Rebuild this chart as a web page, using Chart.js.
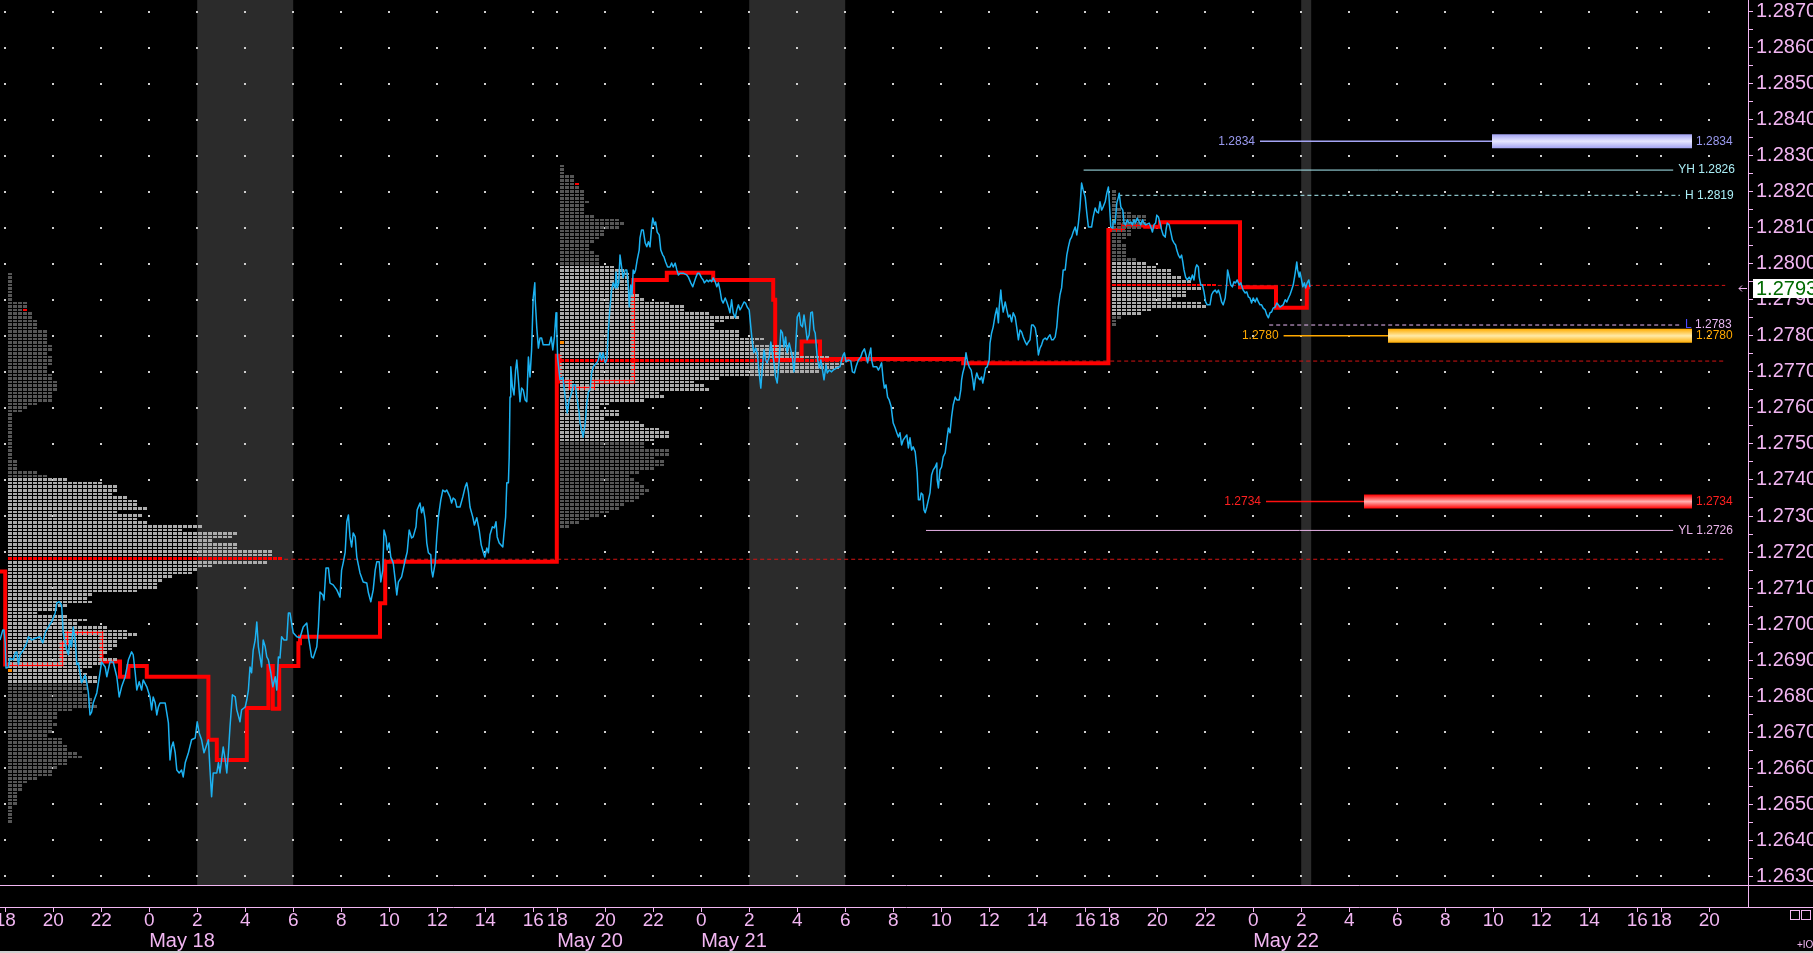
<!DOCTYPE html>
<html><head><meta charset="utf-8">
<script src="https://cdn.jsdelivr.net/npm/chart.js@4.4.1/dist/chart.umd.min.js"></script>
<style>html,body{margin:0;padding:0;background:#000;overflow:hidden}canvas{display:block}</style>
</head><body>
<canvas id="c" width="1813" height="953"></canvas>
<script>
// Time axis: minutes of trading time since the May 17 18:00 open (each session 18:00-17:00 = 1380 min)
const tickMinutes = [0,120,240,360,480,600,720,840,960,1080,1200,1320,
  1380,1500,1620,1740,1860,1980,2100,2220,2340,2460,2580,2700,
  2760,2880,3000,3120,3240,3360,3480,3600,3720,3840,3960,4080,
  4140,4260];
const tickLabels = ['18','20','22','0','2','4','6','8','10','12','14','16',
  '18','20','22','0','2','4','6','8','10','12','14','16',
  '18','20','22','0','2','4','6','8','10','12','14','16',
  '18','20'];
const dateTicks = [360,1380,1740,3120];
const dateLabels = ['May 18','May 20','May 21','May 22'];
const yMajorTicks = [1.2630,1.2640,1.2650,1.2660,1.2670,1.2680,1.2690,1.2700,1.2710,1.2720,1.2730,1.2740,1.2750,1.2760,1.2770,1.2780,1.2790,1.2800,1.2810,1.2820,1.2830,1.2840,1.2850,1.2860,1.2870];
const yMinorTicks = [1.2635,1.2645,1.2655,1.2665,1.2675,1.2685,1.2695,1.2705,1.2715,1.2725,1.2735,1.2745,1.2755,1.2765,1.2775,1.2785,1.2795,1.2805,1.2815,1.2825,1.2835,1.2845,1.2855,1.2865];

// European-morning shaded periods (trading minutes)
const bandFrom = [480,1860,3240];
const bandTo = [720,2100,3265];

// Price (minute, price)
const priceSeries = [[-13,1.26956],[-6,1.26984],[-3,1.26984],[0,1.26948],[2,1.26878],[8,1.26881],[12,1.26906],[20,1.26901],[25,1.26920],[29,1.26923],[33,1.26887],[37,1.26915],[45,1.26928],[54,1.26948],[58,1.26965],[66,1.26956],[79,1.26962],[87,1.26965],[94,1.26948],[100,1.26976],[108,1.26992],[116,1.27006],[125,1.27031],[129,1.27059],[135,1.27062],[141,1.27053],[145,1.26976],[150,1.26948],[154,1.26928],[158,1.26915],[162,1.26956],[166,1.26937],[170,1.26992],[175,1.26956],[179,1.26887],[183,1.26892],[187,1.26865],[191,1.26837],[200,1.26859],[204,1.26837],[208,1.26809],[212,1.26748],[216,1.26756],[220,1.26781],[229,1.26809],[237,1.26865],[241,1.26895],[250,1.26881],[254,1.26854],[262,1.26895],[270,1.26895],[279,1.26854],[285,1.26798],[291,1.26826],[300,1.26854],[308,1.26901],[316,1.26923],[320,1.26915],[325,1.26865],[329,1.26817],[335,1.26840],[341,1.26817],[345,1.26845],[354,1.26826],[362,1.26798],[366,1.26762],[370,1.26798],[375,1.26781],[379,1.26748],[383,1.26770],[387,1.26781],[400,1.26781],[404,1.26754],[408,1.26726],[412,1.26623],[416,1.26659],[420,1.26673],[425,1.26643],[429,1.26595],[435,1.26587],[441,1.26595],[445,1.26576],[450,1.26615],[458,1.26643],[466,1.26679],[475,1.26684],[480,1.26729],[485,1.26698],[491,1.26679],[497,1.26643],[502,1.26659],[508,1.26679],[512,1.26595],[516,1.26521],[520,1.26587],[529,1.26587],[533,1.26615],[537,1.26587],[545,1.26659],[550,1.26623],[554,1.26587],[558,1.26643],[562,1.26715],[568,1.26804],[575,1.26798],[579,1.26762],[587,1.26729],[591,1.26762],[600,1.26770],[604,1.26790],[608,1.26817],[612,1.26881],[616,1.26865],[620,1.26928],[625,1.26956],[629,1.27006],[633,1.26937],[637,1.26909],[641,1.26881],[645,1.26956],[650,1.26937],[654,1.26909],[658,1.26901],[664,1.26865],[669,1.26826],[675,1.26854],[679,1.26817],[683,1.26909],[687,1.26906],[691,1.26965],[697,1.26956],[704,1.26956],[708,1.27031],[712,1.27031],[716,1.27003],[720,1.26976],[729,1.26965],[737,1.26962],[745,1.26992],[754,1.27003],[758,1.26965],[766,1.26909],[770,1.26906],[779,1.26937],[783,1.26992],[787,1.27089],[794,1.27081],[797,1.27067],[802,1.27156],[808,1.27156],[812,1.27114],[820,1.27109],[829,1.27095],[837,1.27075],[841,1.27150],[845,1.27170],[850,1.27200],[854,1.27284],[858,1.27303],[862,1.27242],[866,1.27214],[870,1.27253],[875,1.27242],[879,1.27186],[887,1.27142],[895,1.27117],[904,1.27114],[908,1.27087],[914,1.27062],[920,1.27095],[925,1.27150],[929,1.27173],[935,1.27173],[939,1.27117],[944,1.27150],[947,1.27261],[952,1.27242],[955,1.27206],[960,1.27225],[964,1.27186],[970,1.27170],[975,1.27123],[979,1.27081],[983,1.27117],[991,1.27131],[1000,1.27178],[1005,1.27200],[1010,1.27261],[1016,1.27239],[1020,1.27242],[1027,1.27270],[1030,1.27317],[1037,1.27336],[1041,1.27309],[1045,1.27325],[1050,1.27289],[1054,1.27225],[1058,1.27198],[1064,1.27192],[1066,1.27150],[1069,1.27131],[1075,1.27170],[1079,1.27242],[1083,1.27297],[1089,1.27345],[1094,1.27372],[1100,1.27367],[1104,1.27372],[1112,1.27353],[1116,1.27336],[1120,1.27350],[1125,1.27345],[1129,1.27325],[1137,1.27325],[1144,1.27353],[1150,1.27381],[1154,1.27392],[1158,1.27367],[1162,1.27325],[1169,1.27297],[1173,1.27275],[1179,1.27295],[1185,1.27261],[1190,1.27220],[1195,1.27200],[1199,1.27186],[1204,1.27211],[1208,1.27198],[1212,1.27248],[1218,1.27270],[1223,1.27267],[1227,1.27284],[1230,1.27242],[1235,1.27225],[1244,1.27214],[1247,1.27253],[1251,1.27297],[1254,1.27392],[1258,1.27392],[1260,1.27464],[1262,1.27630],[1264,1.27714],[1268,1.27658],[1272,1.27636],[1276,1.27705],[1279,1.27733],[1283,1.27678],[1287,1.27617],[1291,1.27655],[1295,1.27650],[1300,1.27622],[1304,1.27617],[1308,1.27741],[1312,1.27686],[1316,1.27761],[1320,1.27905],[1324,1.27947],[1325,1.27900],[1329,1.27822],[1333,1.27766],[1337,1.27794],[1341,1.27794],[1345,1.27775],[1354,1.27775],[1360,1.27775],[1365,1.27797],[1369,1.27761],[1373,1.27797],[1377,1.27864],[1379,1.27816],[1381,1.27741],[1387,1.27678],[1394,1.27686],[1400,1.27630],[1405,1.27586],[1410,1.27622],[1416,1.27642],[1420,1.27664],[1425,1.27664],[1429,1.27630],[1435,1.27586],[1437,1.27558],[1441,1.27539],[1445,1.27519],[1450,1.27558],[1454,1.27614],[1458,1.27644],[1462,1.27650],[1466,1.27697],[1470,1.27714],[1479,1.27725],[1483,1.27733],[1487,1.27753],[1491,1.27733],[1495,1.27753],[1500,1.27725],[1504,1.27733],[1508,1.27816],[1512,1.27880],[1516,1.27927],[1520,1.27947],[1525,1.27933],[1527,1.27977],[1530,1.27933],[1534,1.27947],[1537,1.28024],[1541,1.27991],[1545,1.27961],[1550,1.27983],[1554,1.27983],[1558,1.27936],[1560,1.27880],[1564,1.27941],[1567,1.27914],[1570,1.27983],[1573,1.27974],[1576,1.27983],[1580,1.28011],[1585,1.28038],[1587,1.28072],[1591,1.28094],[1595,1.28094],[1600,1.28058],[1604,1.28047],[1608,1.28061],[1612,1.28047],[1616,1.28102],[1619,1.28127],[1623,1.28108],[1626,1.28116],[1630,1.28088],[1635,1.28080],[1639,1.28038],[1644,1.28024],[1647,1.28019],[1651,1.28005],[1656,1.27991],[1662,1.27991],[1666,1.28002],[1670,1.27991],[1675,1.28002],[1679,1.27983],[1683,1.27969],[1687,1.27974],[1695,1.27974],[1704,1.27969],[1708,1.27963],[1714,1.27947],[1719,1.27936],[1723,1.27950],[1727,1.27963],[1731,1.27974],[1735,1.27974],[1741,1.27961],[1745,1.27955],[1748,1.27947],[1754,1.27955],[1758,1.27950],[1762,1.27955],[1766,1.27950],[1770,1.27961],[1775,1.27950],[1779,1.27936],[1783,1.27947],[1787,1.27927],[1791,1.27900],[1795,1.27891],[1800,1.27905],[1804,1.27894],[1808,1.27880],[1812,1.27864],[1816,1.27900],[1820,1.27864],[1825,1.27850],[1829,1.27872],[1833,1.27886],[1837,1.27872],[1841,1.27880],[1847,1.27894],[1851,1.27891],[1855,1.27880],[1860,1.27872],[1864,1.27825],[1868,1.27780],[1872,1.27753],[1876,1.27766],[1880,1.27753],[1885,1.27697],[1889,1.27655],[1893,1.27714],[1897,1.27761],[1901,1.27733],[1905,1.27725],[1910,1.27741],[1914,1.27783],[1918,1.27753],[1922,1.27725],[1926,1.27686],[1930,1.27669],[1935,1.27733],[1939,1.27816],[1943,1.27808],[1947,1.27769],[1951,1.27797],[1955,1.27753],[1960,1.27780],[1964,1.27761],[1968,1.27741],[1972,1.27700],[1976,1.27761],[1980,1.27852],[1985,1.27864],[1989,1.27830],[1993,1.27825],[1997,1.27858],[2001,1.27825],[2005,1.27789],[2010,1.27803],[2014,1.27864],[2018,1.27866],[2022,1.27816],[2025,1.27808],[2030,1.27741],[2035,1.27711],[2039,1.27733],[2042,1.27714],[2047,1.27678],[2052,1.27719],[2055,1.27697],[2060,1.27705],[2066,1.27700],[2070,1.27705],[2079,1.27711],[2087,1.27714],[2091,1.27733],[2095,1.27747],[2098,1.27753],[2102,1.27728],[2108,1.27733],[2114,1.27730],[2118,1.27700],[2123,1.27697],[2127,1.27714],[2133,1.27733],[2139,1.27741],[2143,1.27755],[2148,1.27764],[2152,1.27747],[2156,1.27725],[2160,1.27747],[2164,1.27766],[2166,1.27733],[2170,1.27714],[2179,1.27714],[2183,1.27705],[2187,1.27714],[2191,1.27725],[2195,1.27678],[2198,1.27655],[2202,1.27664],[2206,1.27630],[2210,1.27622],[2215,1.27603],[2218,1.27575],[2220,1.27558],[2225,1.27544],[2229,1.27531],[2233,1.27519],[2237,1.27531],[2241,1.27497],[2245,1.27511],[2250,1.27519],[2254,1.27525],[2258,1.27489],[2262,1.27517],[2266,1.27483],[2270,1.27492],[2275,1.27478],[2277,1.27456],[2280,1.27420],[2283,1.27345],[2287,1.27345],[2290,1.27364],[2294,1.27359],[2297,1.27317],[2300,1.27309],[2304,1.27325],[2308,1.27345],[2312,1.27364],[2316,1.27414],[2320,1.27428],[2325,1.27436],[2329,1.27447],[2330,1.27400],[2333,1.27378],[2337,1.27428],[2341,1.27436],[2345,1.27464],[2350,1.27475],[2354,1.27511],[2358,1.27544],[2362,1.27531],[2366,1.27575],[2370,1.27608],[2375,1.27630],[2379,1.27622],[2385,1.27622],[2389,1.27650],[2391,1.27678],[2394,1.27697],[2398,1.27714],[2402,1.27753],[2406,1.27728],[2410,1.27714],[2415,1.27705],[2419,1.27678],[2422,1.27650],[2425,1.27678],[2429,1.27697],[2433,1.27683],[2437,1.27678],[2441,1.27686],[2444,1.27669],[2447,1.27686],[2451,1.27711],[2455,1.27714],[2460,1.27733],[2462,1.27780],[2466,1.27808],[2470,1.27825],[2475,1.27858],[2479,1.27877],[2483,1.27836],[2485,1.27880],[2489,1.27927],[2491,1.27900],[2495,1.27866],[2500,1.27894],[2504,1.27872],[2508,1.27852],[2512,1.27858],[2516,1.27839],[2520,1.27864],[2525,1.27852],[2529,1.27822],[2533,1.27789],[2537,1.27816],[2541,1.27811],[2545,1.27797],[2550,1.27783],[2554,1.27775],[2558,1.27783],[2562,1.27789],[2566,1.27830],[2570,1.27830],[2575,1.27822],[2579,1.27794],[2583,1.27747],[2587,1.27766],[2591,1.27775],[2595,1.27789],[2600,1.27794],[2604,1.27789],[2608,1.27797],[2612,1.27803],[2616,1.27789],[2620,1.27789],[2625,1.27797],[2629,1.27825],[2633,1.27880],[2637,1.27914],[2641,1.27933],[2645,1.27983],[2650,1.27983],[2654,1.28024],[2658,1.28047],[2662,1.28066],[2666,1.28074],[2670,1.28088],[2675,1.28102],[2679,1.28080],[2683,1.28113],[2687,1.28158],[2691,1.28224],[2695,1.28205],[2700,1.28185],[2704,1.28141],[2708,1.28102],[2712,1.28102],[2716,1.28102],[2720,1.28130],[2725,1.28155],[2729,1.28144],[2733,1.28141],[2737,1.28172],[2741,1.28149],[2745,1.28158],[2750,1.28172],[2754,1.28196],[2758,1.28213],[2760,1.28177],[2764,1.28102],[2769,1.28099],[2770,1.28122],[2775,1.28113],[2779,1.28169],[2783,1.28185],[2785,1.28196],[2789,1.28158],[2794,1.28149],[2797,1.28113],[2801,1.28108],[2805,1.28122],[2810,1.28113],[2814,1.28116],[2818,1.28108],[2822,1.28122],[2826,1.28113],[2830,1.28127],[2835,1.28116],[2839,1.28108],[2843,1.28122],[2847,1.28113],[2851,1.28108],[2860,1.28113],[2864,1.28102],[2868,1.28088],[2872,1.28108],[2876,1.28113],[2879,1.28135],[2883,1.28130],[2887,1.28113],[2891,1.28094],[2895,1.28080],[2900,1.28074],[2902,1.28094],[2905,1.28113],[2910,1.28108],[2914,1.28088],[2918,1.28066],[2922,1.28058],[2926,1.28052],[2929,1.28038],[2933,1.28024],[2937,1.28016],[2941,1.28024],[2944,1.28005],[2947,1.27983],[2951,1.27963],[2955,1.27955],[2960,1.27963],[2964,1.27955],[2968,1.27969],[2972,1.27955],[2976,1.27988],[2979,1.27997],[2983,1.27991],[2985,1.27963],[2989,1.27941],[2993,1.27941],[2997,1.27922],[3001,1.27894],[3005,1.27886],[3012,1.27886],[3016,1.27914],[3020,1.27922],[3025,1.27927],[3029,1.27919],[3033,1.27927],[3037,1.27914],[3041,1.27894],[3045,1.27886],[3050,1.27905],[3054,1.27947],[3056,1.27983],[3060,1.27963],[3064,1.27941],[3068,1.27936],[3072,1.27950],[3076,1.27947],[3080,1.27955],[3085,1.27941],[3089,1.27947],[3093,1.27933],[3095,1.27927],[3100,1.27919],[3104,1.27922],[3108,1.27908],[3112,1.27905],[3116,1.27891],[3120,1.27905],[3125,1.27894],[3129,1.27905],[3133,1.27894],[3137,1.27886],[3141,1.27886],[3145,1.27877],[3150,1.27872],[3154,1.27858],[3158,1.27850],[3162,1.27864],[3166,1.27866],[3170,1.27877],[3175,1.27880],[3179,1.27891],[3183,1.27886],[3187,1.27880],[3191,1.27883],[3195,1.27886],[3200,1.27900],[3204,1.27894],[3208,1.27905],[3212,1.27914],[3216,1.27927],[3220,1.27941],[3225,1.27974],[3229,1.28005],[3231,1.27983],[3235,1.27963],[3237,1.27977],[3240,1.27961],[3244,1.27936],[3248,1.27947],[3251,1.27933],[3255,1.27947],[3259,1.27955],[3262,1.27935]];

// Red step line (value holds from each minute until the next point)
const stepSeries = [[-13,1.27146],[0,1.26888],[141,1.26947],[154,1.26975],[241,1.26896],[287,1.26854],[308,1.26884],[354,1.26854],[508,1.26679],[529,1.26623],[604,1.26767],[658,1.26884],[669,1.26765],[685,1.26884],[733,1.26947],[737,1.26965],[937,1.27058],[950,1.27173],[1379,1.27745],[1386,1.27673],[1412,1.27655],[1470,1.27673],[1570,1.27955],[1654,1.27975],[1770,1.27955],[1920,1.27900],[1925,1.27733],[1991,1.27784],[2037,1.27736],[2395,1.27724],[2758,1.28094],[2795,1.28106],[2850,1.28103],[2887,1.28115],[3087,1.27935],[3177,1.27878],[3254,1.27935],[3262,1.27935]];

// Market profiles: block counts per 1-pip row, from the lowest price upward
const profileRowsA = [1,1,1,1,1,2,2,2,2,3,3,4,6,9,9,10,12,12,15,14,12,12,11,11,8,9,9,10,9,10,10,13,18,17,17,16,15,16,16,
  18,18,16,15,17,19,22,19,20,21,22,22,24,26,24,20,14,16,12,6,10,12,17,16,17,26,30,30,31,33,37,38,41,52,
  55,
  53,53,46,46,41,45,46,35,39,28,26,27,22,28,26,26,24,21,22,22,19,12,
  8,6,2,2,2,1,1,1,1,1,1,1,1,1,1,1,1,1,
  3,4,6,9,9,9,10,10,10,9,9,8,8,9,9,9,8,9,9,8,8,8,8,6,6,6,5,5,4,4,4,1,1,1,1,1,1,1,1];
const profileRowsB = [2,4,6,8,10,12,13,15,16,17,18,17,16,15,
  14,16,19,21,21,19,22,22,17,17,19,22,22,20,17,16,9,12,12,8,10,17,21,20,30,29,27,32,43,52,56,57,
  58,
  54,48,46,46,39,41,36,36,31,31,33,36,30,25,25,22,17,16,14,14,14,14,14,14,13,11,8,8,8,7,6,6,7,8,9,9,12,13,12,7,5,5,5,6,5,5,5,4,4,3,3,1,1,1];
const profileRowsC = [1,1,2,6,8,19,18,12,15,15,18,21,16,14,12,12,9,7,5,3,3,3,3,2,3,4,4,6,7,7,7,4,2,1,1,1,1,1];
const profileAnchor = [7,1387,2766];
const profileBase = [1.2645,1.2727,1.2783];
const profilePoc = [1.2718,1.2773,1.2794];
const profileVaLow = [1.2684,1.2751,1.2786];
const profileVaHigh = [1.2740,1.2799,1.2800];
const markerProfile = [0,0,1,1,2];
const markerPrice = [1.2787,1.2687,1.2822,1.2778,1.2812];
const markerBlock = [3,0,3,0,0];
const markerKind = ['hi','open','hi','open','open'];

// Reference levels
const levelNames = ['YH','H','L','YL'];
const levelValues = [1.2826,1.2819,1.2783,1.2726];
const levelFrom = [2696,2783,3160,2302];
const levelTo = [4170,4187,4187,4170];
// Zones
const zoneValues = [1.2834,1.2780,1.2734];
const zoneLineFrom = [3137,3196,3152];
const zoneBarFrom = [3717,3457,3397];
const zoneBarTo = [4217,4217,4217];
const pocExtEnd = 4300;
const lastPrice = 1.2793;

// ---------- styles ----------
const PIP = 0.0001, BLOCK_MIN = 12.5;
const PINK = '#f2b6f2';
const FONT = '"Liberation Sans", Arial, sans-serif';
const LEVEL_COLORS = ['#aaeef6','#aaeef6','#e8b8f4','#eab4ea'];
const LEVEL_DASH = [[],[4,3],[4,3],[]];
const ZONE_LINE = ['#a4a4f4','#ffa800','#ff1010'];
const ZONE_EDGE = ['#a2a2f2','#ffac00','#ff0000'];
const ZONE_MID = ['#e6e6ff','#ffeaa8','#ffb0b0'];
const ZONE_TEXT = ['#9a9af0','#ffa800','#ff2020'];
const XAXIS_LINE_Y = 907;

const profiles = [profileRowsA, profileRowsB, profileRowsC].map((rows, i) => ({
  rows, anchor: profileAnchor[i], base: profileBase[i], poc: profilePoc[i], vaLow: profileVaLow[i], vaHigh: profileVaHigh[i]
}));

function zoneGradient(chart, v, edge, mid) {
  const {ctx, chartArea, scales} = chart;
  if (!chartArea || !scales.y) return edge;
  const yp = scales.y.getPixelForValue(v);
  const g = ctx.createLinearGradient(0, yp - 7, 0, yp + 7);
  g.addColorStop(0, edge); g.addColorStop(0.5, mid); g.addColorStop(1, edge);
  return g;
}

function drawProfiles(chart) {
  const {ctx: c, chartArea: a, scales: {x, y}} = chart;
  c.save();
  c.beginPath(); c.rect(a.left, a.top, a.right - a.left, a.bottom - a.top); c.clip();
  profiles.forEach((pf, pi) => {
    const x0 = x.getPixelForValue(pf.anchor);
    const bw = x.getPixelForValue(pf.anchor + BLOCK_MIN) - x0;
    pf.rows.forEach((n, i) => {
      const price = pf.base + i * PIP;
      const yt = Math.round(y.getPixelForValue(price + PIP / 2));
      const yb = Math.round(y.getPixelForValue(price - PIP / 2));
      const isPoc = Math.abs(price - pf.poc) < PIP / 4;
      const inVA = price >= pf.vaLow - 1e-7 && price <= pf.vaHigh + 1e-7;
      c.fillStyle = isPoc ? '#ff0000' : (inVA ? '#acacac' : '#565656');
      for (let j = 0; j < n; j++) {
        c.fillRect(Math.round(x0 + j * bw), yt, Math.round(bw) - 1, Math.max(1, yb - yt - 1));
      }
    });
  });
  markerPrice.forEach((p, k) => {
    const pf = profiles[markerProfile[k]];
    const x0 = x.getPixelForValue(pf.anchor);
    const bw = x.getPixelForValue(pf.anchor + BLOCK_MIN) - x0;
    const yt = Math.round(y.getPixelForValue(p + PIP / 2));
    const yb = Math.round(y.getPixelForValue(p - PIP / 2));
    c.fillStyle = markerKind[k] === 'hi' ? '#ff0000' : '#ff8a00';
    c.fillRect(Math.round(x0 + markerBlock[k] * bw), yt, Math.round(bw) - 1, Math.max(1, yb - yt - 1));
  });
  c.restore();
}

const overlay = {
  id: 'overlay',
  beforeDraw(chart) {
    const c = chart.ctx;
    c.save(); c.fillStyle = '#000'; c.fillRect(0, 0, chart.width, chart.height); c.restore();
  },
  beforeDatasetsDraw(chart) {
    const {ctx: c, chartArea: a, scales: {x, y}} = chart;
    c.save();
    c.beginPath(); c.rect(a.left, a.top, a.right - a.left, a.bottom - a.top); c.clip();
    c.fillStyle = '#2b2b2b';
    bandFrom.forEach((f, i) => {
      const x0 = x.getPixelForValue(f), x1 = x.getPixelForValue(bandTo[i]);
      c.fillRect(x0, a.top, x1 - x0, a.bottom - a.top);
    });
    c.fillStyle = '#d0d0d0';
    tickMinutes.forEach(m => {
      const px = Math.round(x.getPixelForValue(m));
      yMajorTicks.forEach(v => {
        const py = Math.round(y.getPixelForValue(v));
        c.fillRect(px - 1, py - 1, 2, 2);
      });
    });
    c.restore();
  },
  afterDatasetDraw(chart, args) {
    if (args.index === 1) drawProfiles(chart);
  },
  afterDraw(chart) {
    const {ctx: c, chartArea: a, scales: {x, y}} = chart;
    const W = chart.width;
    c.save();
    // axis frame lines
    c.strokeStyle = PINK; c.lineWidth = 1;
    c.beginPath();
    c.moveTo(0, a.bottom + 0.5); c.lineTo(W, a.bottom + 0.5);
    c.moveTo(0, XAXIS_LINE_Y + 0.5); c.lineTo(W, XAXIS_LINE_Y + 0.5);
    c.moveTo(a.right + 0.5, a.bottom); c.lineTo(a.right + 0.5, XAXIS_LINE_Y);
    tickMinutes.forEach(m => {
      const px = Math.round(x.getPixelForValue(m)) + 0.5;
      c.moveTo(px, XAXIS_LINE_Y); c.lineTo(px, XAXIS_LINE_Y + 5);
    });
    c.stroke();
    // date labels
    c.fillStyle = PINK; c.font = '20px ' + FONT; c.textAlign = 'left'; c.textBaseline = 'middle';
    dateTicks.forEach((m, i) => c.fillText(dateLabels[i], x.getPixelForValue(m), 941));

    // level labels
    c.font = '12px ' + FONT;
    levelValues.forEach((v, i) => {
      const px = x.getPixelForValue(levelTo[i]) + 5, py = y.getPixelForValue(v);
      if (levelNames[i] === 'L') {
        c.fillStyle = '#4a4aff'; c.fillText('L', px, py);
        const w = c.measureText('L ').width;
        c.fillStyle = LEVEL_COLORS[i]; c.fillText(v.toFixed(4), px + w, py);
      } else {
        c.fillStyle = LEVEL_COLORS[i];
        c.fillText(levelNames[i] + ' ' + v.toFixed(4), px, py);
      }
    });
    zoneValues.forEach((v, i) => {
      const py = y.getPixelForValue(v);
      c.fillStyle = ZONE_TEXT[i];
      c.textAlign = 'right'; c.fillText(v.toFixed(4), x.getPixelForValue(zoneLineFrom[i]) - 5, py);
      c.textAlign = 'left'; c.fillText(v.toFixed(4), x.getPixelForValue(zoneBarTo[i]) + 4, py);
    });

    // current price marker
    const py = Math.round(y.getPixelForValue(lastPrice));
    c.strokeStyle = PINK; c.lineWidth = 1;
    c.beginPath();
    c.moveTo(a.right - 9, py - 0.5); c.lineTo(a.right - 1, py - 0.5);
    c.moveTo(a.right - 9, py - 0.5); c.lineTo(a.right - 6, py - 3.5);
    c.moveTo(a.right - 9, py - 0.5); c.lineTo(a.right - 6, py + 2.5);
    c.stroke();
    c.fillStyle = '#ffffff';
    c.fillRect(a.right + 5, py - 10, W - a.right - 5, 19);
    c.fillStyle = '#006a00'; c.font = '20px ' + FONT; c.textAlign = 'left'; c.textBaseline = 'middle';
    c.fillText(lastPrice.toFixed(4), a.right + 8, py);

    // corner widgets
    c.strokeStyle = PINK;
    c.strokeRect(1790.5, 910.5, 9, 9); c.strokeRect(1801.5, 910.5, 9, 9);
    c.fillStyle = PINK; c.font = '10px ' + FONT; c.fillText('+IO', 1797, 945);
    c.fillStyle = '#cfcfcf'; c.fillRect(0, 951, W, 2);
    c.restore();
  }
};

const datasets = [
  {label: 'price', data: priceSeries.map(d => ({x: d[0], y: d[1]})), borderColor: '#1cb2f2', borderWidth: 1.5, borderJoinStyle: 'round', pointRadius: 0, order: 1},
  {label: 'step', data: stepSeries.map(d => ({x: d[0], y: d[1]})), borderColor: '#ff0000', borderWidth: 4, stepped: true, pointRadius: 0, order: 5}
];
levelValues.forEach((v, i) => datasets.push({
  label: levelNames[i], data: [{x: levelFrom[i], y: v}, {x: levelTo[i], y: v}],
  borderColor: LEVEL_COLORS[i], borderWidth: 1, borderDash: LEVEL_DASH[i], pointRadius: 0, order: 3
}));
zoneValues.forEach((v, i) => {
  datasets.push({label: 'zl' + i, data: [{x: zoneLineFrom[i], y: v}, {x: zoneBarFrom[i], y: v}],
    borderColor: ZONE_LINE[i], borderWidth: 1.5, pointRadius: 0, order: 3});
  datasets.push({label: 'zb' + i, data: [{x: zoneBarFrom[i], y: v}, {x: zoneBarTo[i], y: v}],
    borderColor: ctx => zoneGradient(ctx.chart, v, ZONE_EDGE[i], ZONE_MID[i]), borderWidth: 14, pointRadius: 0, order: 3});
});
profiles.forEach((pf, i) => {
  const n = pf.rows[Math.round((pf.poc - pf.base) / PIP)];
  datasets.push({label: 'poc' + i, data: [{x: pf.anchor + n * BLOCK_MIN + 3, y: pf.poc}, {x: pocExtEnd, y: pf.poc}],
    borderColor: '#d41414', borderWidth: 1, borderDash: [4, 3], pointRadius: 0, order: 4});
});

Chart.defaults.font.family = FONT;
new Chart(document.getElementById('c'), {
  type: 'line',
  data: {datasets},
  options: {
    responsive: false, animation: false, devicePixelRatio: 1, parsing: false, events: [],
    layout: {padding: 0},
    plugins: {legend: {display: false}, tooltip: {enabled: false}},
    scales: {
      x: {
        type: 'linear', min: -13, max: 4357,
        grid: {display: false, drawTicks: false}, border: {display: false},
        ticks: {autoSkip: false, maxRotation: 0, minRotation: 0, padding: 24, color: PINK, font: {size: 19},
          callback: (v, i) => tickLabels[i]},
        afterBuildTicks: s => { s.ticks = tickMinutes.map(v => ({value: v})); },
        afterFit: s => { s.height = 68; s.paddingLeft = 0; s.paddingRight = 0; }
      },
      y: {
        type: 'linear', position: 'right', min: 1.26276, max: 1.28732,
        grid: {drawOnChartArea: false, drawTicks: true, tickLength: 5, color: PINK},
        border: {display: true, color: PINK, width: 1},
        ticks: {autoSkip: false, padding: 3, color: PINK, font: {size: 20},
          callback: (v, i, ts) => (ts[i] && ts[i].lbl) ? ts[i].lbl : ''},
        afterBuildTicks: s => {
          const t = yMajorTicks.map(v => ({value: v, lbl: v.toFixed(4)})).concat(yMinorTicks.map(v => ({value: v, lbl: ''})));
          t.sort((p, q) => p.value - q.value);
          s.ticks = t;
        },
        afterFit: s => { s.width = 65; s.paddingTop = 0; s.paddingBottom = 0; }
      }
    }
  },
  plugins: [overlay]
});
</script>
</body></html>
